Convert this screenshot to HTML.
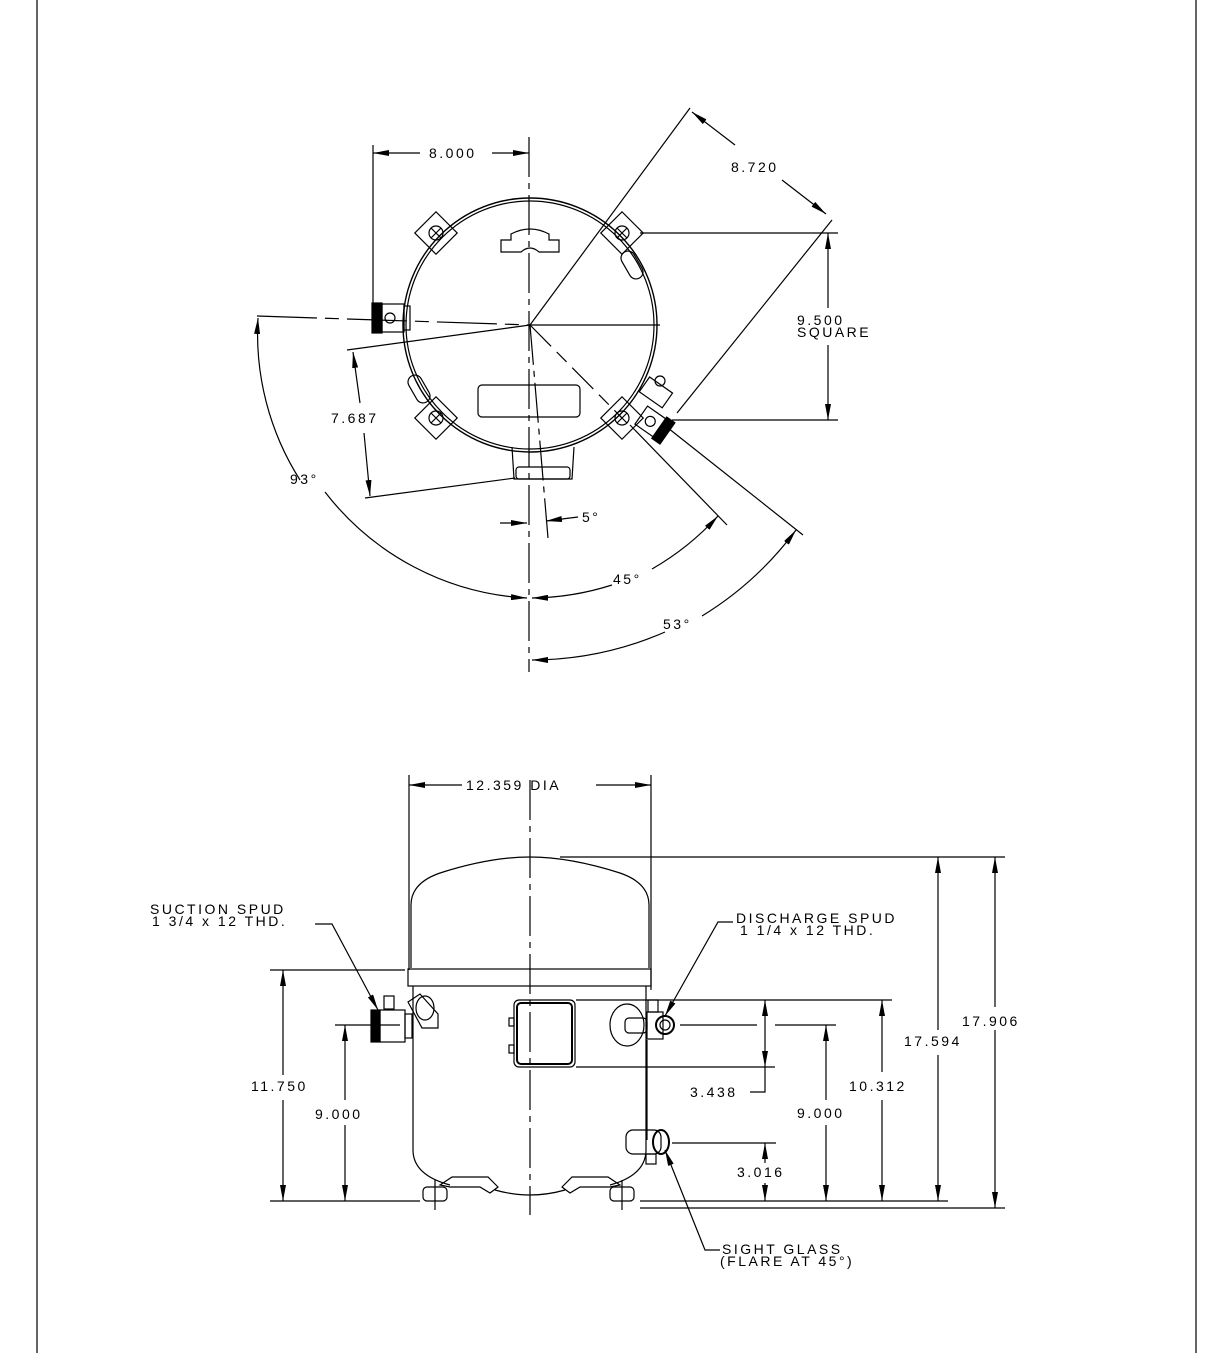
<!DOCTYPE html>
<html><head><meta charset="utf-8"><style>
html,body{margin:0;padding:0;background:#fff}
svg{display:block}
text{font-family:"Liberation Sans",sans-serif;font-size:14px;fill:#000;letter-spacing:2.5px}
</style></head><body>
<svg width="1224" height="1353" viewBox="0 0 1224 1353" xmlns="http://www.w3.org/2000/svg">
<defs>
<marker id="a" viewBox="0 0 16 6" refX="16" refY="3" markerWidth="16" markerHeight="6" markerUnits="userSpaceOnUse" orient="auto-start-reverse"><path d="M0,0 L16,3 L0,6 z" fill="#000"/></marker>
<g id="m" fill="none" stroke="#000" stroke-width="1.2">
<rect x="-15" y="-15" width="30" height="30" transform="rotate(45)"/>
<circle r="7"/><line x1="-5" y1="-5" x2="5" y2="5"/><line x1="-5" y1="5" x2="5" y2="-5"/>
</g>
</defs>
<g fill="none" stroke="#000" stroke-width="1.2">
<line x1="37" y1="0" x2="37" y2="1353"/>
<line x1="1196" y1="0" x2="1196" y2="1353"/>

<!-- ===== TOP VIEW ===== -->
<line x1="529" y1="137" x2="529" y2="672" stroke-dasharray="40,6,6,6"/>
<line x1="530" y1="325" x2="660" y2="325"/>
<circle cx="530" cy="325" r="127" stroke-width="1.4"/>
<circle cx="530" cy="325" r="124"/>
<use href="#m" x="436" y="233"/><use href="#m" x="622" y="233"/>
<use href="#m" x="436" y="418"/><use href="#m" x="622" y="418"/>
<rect x="625" y="250" width="14" height="30" rx="7" transform="rotate(-30 632 265)"/>
<rect x="412" y="374" width="14" height="30" rx="7" transform="rotate(-30 419 389)"/>
<path d="M501 240 h10 v-6 q19 -10 38 0 v6 h10 v12 h-20 q-9 -8 -18 0 h-20 z"/>
<rect x="478" y="385" width="102" height="32" rx="4"/>
<path d="M512 447 l2 32 h58 l2 -32"/><rect x="516" y="467" width="54" height="12" rx="3"/>
<rect x="372" y="303" width="10" height="30" fill="#000"/>
<rect x="382" y="304" width="22" height="28"/>
<rect x="404" y="306" width="6" height="24"/>
<circle cx="390" cy="318" r="5"/>
<line x1="257" y1="316" x2="530" y2="325" stroke-dasharray="60,8,14,8"/>
<g transform="rotate(35 650 420)">
<rect x="640" y="410" width="22" height="22"/>
<rect x="662" y="408" width="10" height="26" fill="#000"/>
<circle cx="651" cy="421" r="5"/>
<rect x="625" y="385" width="28" height="18"/>
</g>
<circle cx="660" cy="381" r="5"/>
<line x1="373" y1="145" x2="373" y2="318"/>
<line x1="373" y1="153" x2="420" y2="153" marker-start="url(#a)"/>
<line x1="492" y1="153" x2="529" y2="153" marker-end="url(#a)"/>
<line x1="530" y1="325" x2="690" y2="108"/>
<line x1="677" y1="413" x2="832" y2="220"/>
<line x1="692" y1="112" x2="735" y2="145" marker-start="url(#a)"/>
<line x1="782" y1="180" x2="826" y2="214" marker-end="url(#a)"/>
<line x1="640" y1="233" x2="838" y2="233"/>
<line x1="672" y1="420" x2="838" y2="420"/>
<line x1="828" y1="233" x2="828" y2="308" marker-start="url(#a)"/>
<line x1="828" y1="345" x2="828" y2="420" marker-end="url(#a)"/>
<line x1="530" y1="325" x2="347" y2="350"/>
<line x1="515" y1="478" x2="365" y2="498"/>
<line x1="353" y1="352" x2="360" y2="403" marker-start="url(#a)"/>
<line x1="364" y1="433" x2="370" y2="496" marker-end="url(#a)"/>
<line x1="530" y1="325" x2="548" y2="538" stroke-dasharray="40,6,6,6"/>
<line x1="500" y1="523" x2="527" y2="523" marker-end="url(#a)"/>
<line x1="578" y1="517" x2="546" y2="521" marker-end="url(#a)"/>
<line x1="530" y1="325" x2="622" y2="418" stroke-dasharray="30,8,14,8"/>
<line x1="630" y1="425" x2="727" y2="525"/>
<line x1="668" y1="428" x2="803" y2="535"/>
<path d="M258 318 A273 273 0 0 0 300 480" marker-start="url(#a)"/>
<path d="M325 492 A273 273 0 0 0 527 598" marker-end="url(#a)"/>
<path d="M532 598 A273 273 0 0 0 612 585" marker-start="url(#a)"/>
<path d="M652 569 A273 273 0 0 0 718 516" marker-end="url(#a)"/>
<path d="M532 660 A335 335 0 0 0 665 632" marker-start="url(#a)"/>
<path d="M702 616 A335 335 0 0 0 796 530" marker-end="url(#a)"/>

<!-- ===== FRONT VIEW ===== -->
<line x1="530" y1="780" x2="530" y2="1215" stroke-dasharray="40,6,6,6"/>
<line x1="409" y1="775" x2="409" y2="970"/>
<line x1="651" y1="775" x2="651" y2="990"/>
<line x1="409" y1="785" x2="462" y2="785" marker-start="url(#a)"/>
<line x1="596" y1="785" x2="651" y2="785" marker-end="url(#a)"/>
<path d="M411 968 V905 Q411 883 440 873 Q490 857 530 857 Q570 857 620 873 Q649 883 649 905 V968"/>
<rect x="408" y="969" width="243" height="17"/>
<path d="M413 986 V1150 Q413 1175 450 1185"/>
<path d="M646 986 V1150 Q646 1175 610 1185"/>
<path d="M495 1190 Q530 1200 565 1190"/>
<path d="M440 1185 l12 -8 h36 l10 10 l-8 6 l-10 -6 h-30 z"/>
<path d="M620 1185 l-12 -8 h-36 l-10 10 l8 6 l10 -6 h30 z"/>
<rect x="423" y="1187" width="24" height="14" rx="4"/>
<rect x="610" y="1187" width="24" height="14" rx="4"/>
<line x1="435" y1="1180" x2="435" y2="1210"/><line x1="622" y1="1180" x2="622" y2="1210"/>
<rect x="514" y="1000" width="61" height="67" rx="5"/>
<rect x="517" y="1003" width="55" height="61" rx="4" stroke-width="2"/>
<rect x="509" y="1018" width="5" height="8"/><rect x="509" y="1045" width="5" height="8"/>
<rect x="371" y="1010" width="9" height="32" fill="#000"/>
<rect x="380" y="1010" width="25" height="32"/>
<rect x="405" y="1014" width="7" height="24"/>
<rect x="384" y="996" width="10" height="13"/>
<path d="M408 1002 l12 -8 l18 20 v14 h-16 z"/>
<ellipse cx="425" cy="1008" rx="9" ry="12"/>
<ellipse cx="627" cy="1025" rx="17" ry="21"/>
<rect x="625" y="1018" width="22" height="15" rx="4"/>
<rect x="647" y="1012" width="16" height="27"/>
<rect x="648" y="1000" width="10" height="12"/>
<circle cx="665" cy="1025" r="9" stroke-width="2"/><circle cx="665" cy="1025" r="5"/>
<line x1="647" y1="1040" x2="647" y2="1140"/>
<rect x="626" y="1130" width="35" height="24" rx="7"/>
<ellipse cx="661" cy="1142" rx="8" ry="12" stroke-width="2"/>
<rect x="646" y="1154" width="10" height="10"/>
<line x1="560" y1="857" x2="1005" y2="857"/>
<line x1="640" y1="1201" x2="948" y2="1201"/>
<line x1="640" y1="1208" x2="1005" y2="1208"/>
<line x1="576" y1="1000" x2="892" y2="1000"/>
<line x1="576" y1="1067" x2="775" y2="1067"/>
<line x1="680" y1="1025" x2="757" y2="1025"/><line x1="775" y1="1025" x2="836" y2="1025"/>
<line x1="672" y1="1143" x2="776" y2="1143"/>
<line x1="995" y1="857" x2="995" y2="1007" marker-start="url(#a)"/>
<line x1="995" y1="1030" x2="995" y2="1208" marker-end="url(#a)"/>
<line x1="938" y1="857" x2="938" y2="1030" marker-start="url(#a)"/>
<line x1="938" y1="1055" x2="938" y2="1201" marker-end="url(#a)"/>
<line x1="882" y1="1000" x2="882" y2="1072" marker-start="url(#a)"/>
<line x1="882" y1="1100" x2="882" y2="1201" marker-end="url(#a)"/>
<line x1="826" y1="1025" x2="826" y2="1100" marker-start="url(#a)"/>
<line x1="826" y1="1125" x2="826" y2="1201" marker-end="url(#a)"/>
<line x1="765" y1="1000" x2="765" y2="1067" marker-start="url(#a)" marker-end="url(#a)"/>
<polyline points="765,1067 765,1092 750,1092"/>
<line x1="765" y1="1143" x2="765" y2="1163" marker-start="url(#a)"/>
<line x1="765" y1="1183" x2="765" y2="1201" marker-end="url(#a)"/>
<line x1="270" y1="970" x2="405" y2="970"/>
<line x1="335" y1="1025" x2="400" y2="1025"/>
<line x1="270" y1="1201" x2="420" y2="1201"/>
<line x1="283" y1="970" x2="283" y2="1075" marker-start="url(#a)"/>
<line x1="283" y1="1100" x2="283" y2="1201" marker-end="url(#a)"/>
<line x1="345" y1="1025" x2="345" y2="1100" marker-start="url(#a)"/>
<line x1="345" y1="1125" x2="345" y2="1201" marker-end="url(#a)"/>
<polyline points="315,924 332,924 378,1010" marker-end="url(#a)"/>
<polyline points="733,922 718,922 665,1016" marker-end="url(#a)"/>
<polyline points="720,1250 705,1250 665,1150" marker-end="url(#a)"/>
</g>
<g>
<text x="429" y="158">8.000</text>
<text x="731" y="172">8.720</text>
<text x="797" y="325">9.500</text>
<text x="797" y="337">SQUARE</text>
<text x="331" y="423">7.687</text>
<text x="290" y="484">93°</text>
<text x="582" y="522">5°</text>
<text x="613" y="584">45°</text>
<text x="663" y="629">53°</text>
<text x="466" y="790">12.359 DIA</text>
<text x="150" y="914">SUCTION SPUD</text>
<text x="152" y="926">1 3/4 x 12 THD.</text>
<text x="736" y="923">DISCHARGE SPUD</text>
<text x="740" y="935">1 1/4 x 12 THD.</text>
<text x="962" y="1026">17.906</text>
<text x="904" y="1046">17.594</text>
<text x="849" y="1091">10.312</text>
<text x="797" y="1118">9.000</text>
<text x="690" y="1097">3.438</text>
<text x="737" y="1177">3.016</text>
<text x="251" y="1091">11.750</text>
<text x="315" y="1119">9.000</text>
<text x="722" y="1254">SIGHT GLASS</text>
<text x="720" y="1266">(FLARE AT 45°)</text>
</g>
</svg>
</body></html>
